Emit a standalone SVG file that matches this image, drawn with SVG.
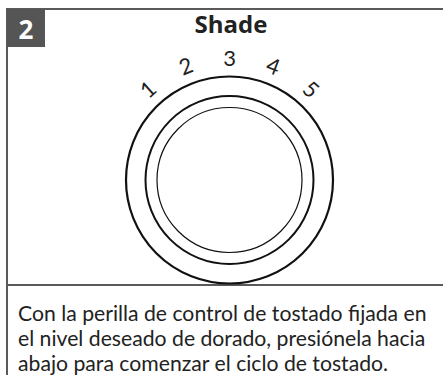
<svg xmlns="http://www.w3.org/2000/svg" width="443" height="375" viewBox="0 0 443 375">
<style>
.frame{stroke:#5a5a5a;stroke-width:2;fill:none}
.num{font-family:Lato,"Open Sans",sans-serif;font-size:22px;fill:#222;text-anchor:middle}
.body{font-family:Lato,"Open Sans",sans-serif;font-size:21.2px;fill:#222}
.ring{fill:none;stroke:#111}
</style>
<rect width="443" height="375" fill="#fff"/>
<g id="frame">
<line class="frame" x1="7" y1="9" x2="443" y2="9"/>
<line class="frame" x1="7" y1="8" x2="7" y2="375"/>
<line class="frame" x1="7" y1="285" x2="443" y2="285"/>
</g>
<g id="step">
<rect x="7" y="9" width="38" height="38" fill="#555"/>
<text x="26" y="39" font-family="'Open Sans',Lato,sans-serif" font-weight="bold" font-size="26" fill="#fff" text-anchor="middle">2</text>
</g>
<g id="title">
<text x="231" y="33" font-family="'Open Sans',Lato,sans-serif" font-weight="bold" font-size="24" fill="#222" text-anchor="middle">Shade</text>
</g>
<g id="dial">
<circle class="ring" cx="229.5" cy="180" r="103.5" stroke-width="2.2"/>
<circle class="ring" cx="229.5" cy="180" r="84" stroke-width="2"/>
<circle class="ring" cx="229.5" cy="180" r="72.5" stroke-width="1.2"/>
<g transform="translate(229.5,180)">
<text class="num" transform="rotate(-42) translate(0,-114)">1</text>
<text class="num" transform="rotate(-21) translate(0,-114)">2</text>
<text class="num" transform="rotate(0) translate(0,-114)">3</text>
<text class="num" transform="rotate(21) translate(0,-114)">4</text>
<text class="num" transform="rotate(42) translate(0,-114)">5</text>
</g>
</g>
<g id="caption">
<text class="body" x="18" y="321">Con la perilla de control de tostado fijada en</text>
<text class="body" x="18" y="346">el nivel deseado de dorado, presiónela hacia</text>
<text class="body" x="18" y="371">abajo para comenzar el ciclo de tostado.</text>
</g>
</svg>
